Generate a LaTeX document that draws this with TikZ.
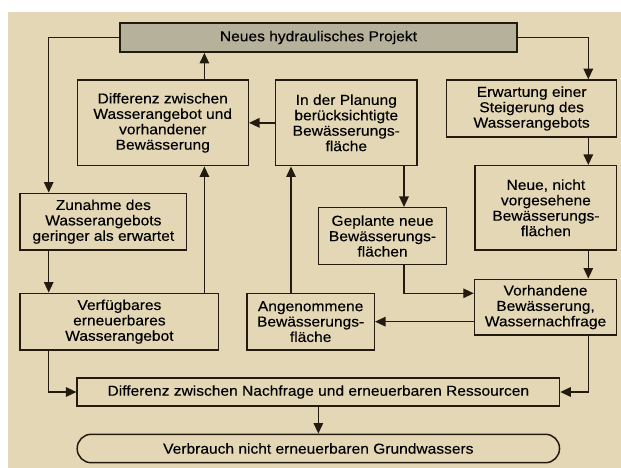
\documentclass[tikz,border=0pt]{standalone}
\usepackage{fontspec}
\setmainfont{Liberation Sans}[FakeStretch=1.08, FakeBold=0.25]
\usetikzlibrary{arrows.meta}
\definecolor{paper}{HTML}{E3D7B5}
\definecolor{projfill}{HTML}{B5B19B}
\definecolor{ink}{HTML}{231A10}
\begin{document}
\begin{tikzpicture}[
		x=1pt, y=-1pt,
		box/.style={draw=ink, line width=1.5pt, align=center, inner sep=2pt,
			font=\fontsize{14.4}{15.4}\selectfont},
		arr/.style={draw=ink, line width=1.4pt, -{Triangle[length=10.5pt, width=9.5pt]}}
	]
		\useasboundingbox (0,0) rectangle (621,468);
		\fill[paper] (8.3,12) rectangle (621,468);
		
		% Top
		\node[box, fill=projfill, line width=1.8pt, minimum width=397, minimum height=29] (proj) at (318.5,37.5) {Neues hydraulisches Projekt};
		
		% Row 1
		\node[box, minimum width=171, minimum height=85.7] (diff1) at (162.75,122.85) {Differenz zwischen\\Wasserangebot und\\vorhandener\\Bewässerung};
		\node[box, minimum width=141.4, minimum height=85.7] (plan) at (346.3,122.85) {In der Planung\\berücksichtigte\\Bewässerungs-\\fläche};
		\node[box, minimum width=170, minimum height=57] (erw) at (531.65,108.5) {Erwartung einer\\Steigerung des\\Wasserangebots};
		
		% Row 2
		\node[box, minimum width=166.3, minimum height=56.7] (zun) at (103.35,221.65) {Zunahme des\\Wasserangebots\\geringer als erwartet};
		\node[box, minimum width=128.3, minimum height=56.6] (gepl) at (382.55,236) {Geplante neue\\Bewässerungs-\\flächen};
		\node[box, minimum width=141.4, minimum height=84.3] (neue) at (545.9,207.85) {Neue, nicht\\vorgesehene\\Bewässerungs-\\flächen};
		
		% Row 3
		\node[box, minimum width=198.4, minimum height=56.7] (verf) at (119.4,321.65) {Verfügbares\\erneuerbares\\Wasserangebot};
		\node[box, minimum width=127.3, minimum height=56.7] (ang) at (310.65,321.65) {Angenommene\\Bewässerungs-\\fläche};
		\node[box, minimum width=142.1, minimum height=55.7] (vorh) at (545.55,307.15) {Vorhandene\\Bewässerung,\\Wassernachfrage};
		
		% Bottom
		\node[box, minimum width=482.3, minimum height=28] (diff2) at (318.35,392) {Differenz zwischen Nachfrage und erneuerbaren Ressourcen};
		\node[box, rounded corners=14pt, minimum width=482.3, minimum height=28.4] (verb) at (318.35,448.5) {Verbrauch nicht erneuerbaren Grundwassers};
		
		% Line positions
		\coordinate (xl) at (48.7,0);
		\coordinate (xa) at (204.4,0);
		\coordinate (xb) at (291,0);
		\coordinate (xc) at (404,0);
		\coordinate (xr) at (588.3,0);
		\coordinate (yg) at (0,293.3);
		
		% Edges
		\draw[arr] (proj.west) -| (zun.north -| xl);
		\draw[arr] (proj.east) -| (erw.north -| xr);
		\draw[arr] (diff1.north -| xa) -- (proj.south -| xa);
		\draw[arr] (plan) -- (diff1);
		\draw[arr] (erw.south -| xr) -- (neue.north -| xr);
		\draw[arr] (zun.south -| xl) -- (verf.north -| xl);
		\draw[arr] (verf.north -| xa) -- (diff1.south -| xa);
		\draw[arr] (ang.north -| xb) -- (plan.south -| xb);
		\draw[arr] (plan.south -| xc) -- (gepl.north -| xc);
		\draw[arr] (gepl.south -| xc) |- (vorh.west |- yg);
		\draw[arr] (neue.south -| xr) -- (vorh.north -| xr);
		\draw[arr] (vorh.west |- ang.east) -- (ang.east);
		\draw[arr] (verf.south -| xl) |- (diff2.west);
		\draw[arr] (vorh.south -| xr) |- (diff2.east);
		\draw[arr] (diff2) -- (verb);
	\end{tikzpicture}
\end{document}
